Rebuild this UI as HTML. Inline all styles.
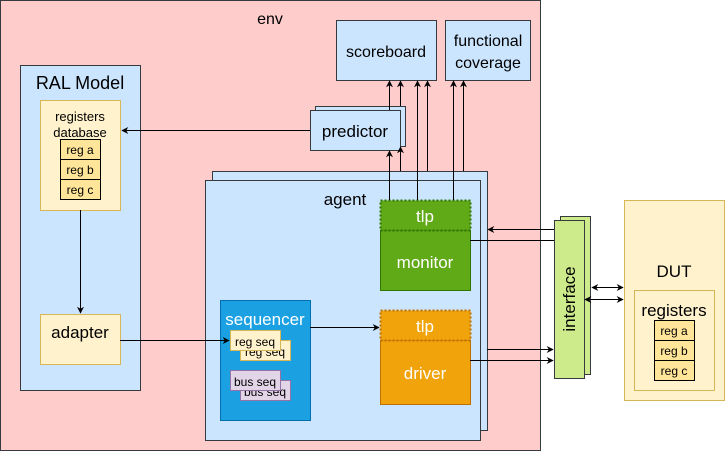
<!DOCTYPE html>
<html><head><meta charset="utf-8"><style>html,body{margin:0;padding:0;background:#fff}svg{display:block}text{font-family:"Liberation Sans",sans-serif}</style></head>
<body>
<svg width="726" height="451" viewBox="0 0 726 451" xmlns="http://www.w3.org/2000/svg">
<defs><marker id="a" viewBox="0 0 10 10" refX="9" refY="5" markerWidth="7" markerHeight="7" orient="auto-start-reverse"><path d="M0,0 L10,5 L0,10 L3,5 z" fill="#000"/></marker></defs>
<rect x="0.5" y="0.5" width="540" height="450" fill="#ffcccc" stroke="#36393d"/>
<text x="270" y="24" font-size="16" text-anchor="middle">env</text>
<rect x="336.5" y="20.5" width="100" height="60" fill="#cce5ff" stroke="#36393d"/>
<text x="386" y="57" font-size="16" text-anchor="middle">scoreboard</text>
<rect x="445.5" y="20.5" width="85" height="60" fill="#cce5ff" stroke="#36393d"/>
<text x="488" y="46" font-size="16" text-anchor="middle">functional</text>
<text x="488" y="68" font-size="16" text-anchor="middle">coverage</text>
<rect x="20.5" y="65.5" width="120" height="325" fill="#cce5ff" stroke="#36393d"/>
<text x="80" y="89" font-size="18" text-anchor="middle">RAL Model</text>
<rect x="40.5" y="100.5" width="80" height="110" fill="#fff2cc" stroke="#d6b656"/>
<text x="80" y="121" font-size="13" text-anchor="middle">registers</text>
<text x="80" y="137" font-size="13" text-anchor="middle">database</text>
<g font-size="12" text-anchor="middle"><rect x="60.5" y="139.5" width="40" height="20" fill="#ffe599" stroke="#000"/><text x="80" y="154">reg a</text><rect x="60.5" y="159.5" width="40" height="20" fill="#ffe599" stroke="#000"/><text x="80" y="174">reg b</text><rect x="60.5" y="179.5" width="40" height="20" fill="#ffe599" stroke="#000"/><text x="80" y="194">reg c</text></g>
<rect x="40.5" y="314.5" width="80" height="50" fill="#fff2cc" stroke="#d6b656"/>
<text x="80" y="338" font-size="17" text-anchor="middle">adapter</text>
<rect x="315.5" y="106.5" width="90" height="40" fill="#cce5ff" stroke="#36393d"/>
<rect x="310.5" y="110.5" width="90" height="40" fill="#cce5ff" stroke="#36393d"/>
<text x="355" y="137" font-size="17" text-anchor="middle">predictor</text>
<rect x="212.5" y="171.5" width="275" height="259" fill="#cce5ff" stroke="#36393d"/>
<rect x="205.5" y="180.5" width="275" height="260" fill="#cce5ff" stroke="#36393d"/>
<text x="345" y="205" font-size="17" text-anchor="middle">agent</text>
<rect x="380.5" y="230.5" width="90" height="60" fill="#60a917" stroke="#2d7600"/>
<rect x="380.5" y="200.5" width="90" height="30" fill="#60a917" stroke="#2d7600" stroke-width="2" stroke-dasharray="2,2"/>
<text x="425" y="222" font-size="17" fill="#fff" text-anchor="middle">tlp</text>
<text x="425" y="268" font-size="17" fill="#fff" text-anchor="middle">monitor</text>
<rect x="380.5" y="340.5" width="90" height="64" fill="#f0a30a" stroke="#bd7000"/>
<rect x="380.5" y="310.5" width="90" height="30" fill="#f0a30a" stroke="#bd7000" stroke-width="2" stroke-dasharray="2,2"/>
<text x="425" y="332" font-size="17" fill="#fff" text-anchor="middle">tlp</text>
<text x="425" y="379" font-size="17" fill="#fff" text-anchor="middle">driver</text>
<rect x="220.5" y="300.5" width="90" height="120" fill="#1ba1e2" stroke="#006eaf"/>
<text x="265" y="325" font-size="17" fill="#fff" text-anchor="middle">sequencer</text>
<g font-size="12" text-anchor="middle">
<rect x="240.5" y="340.5" width="50" height="20" fill="#fff2cc" stroke="#d6b656"/><text x="265" y="356">reg seq</text>
<rect x="230.5" y="330.5" width="50" height="20" fill="#fff2cc" stroke="#d6b656"/><text x="255" y="346">reg seq</text>
<rect x="240.5" y="380.5" width="50" height="20" fill="#e1d5e7" stroke="#9673a6"/><text x="265" y="396">bus seq</text>
<rect x="230.5" y="370.5" width="50" height="20" fill="#e1d5e7" stroke="#9673a6"/><text x="255" y="386">bus seq</text></g>
<rect x="560.5" y="216.5" width="30" height="158" fill="#cdeb8b" stroke="#36393d"/>
<rect x="554.5" y="220.5" width="30" height="158" fill="#cdeb8b" stroke="#36393d"/>
<text transform="translate(575,299) rotate(-90)" font-size="17" text-anchor="middle">interface</text>
<rect x="624.5" y="200.5" width="100" height="200" fill="#fff2cc" stroke="#d6b656"/>
<text x="674" y="277" font-size="17" text-anchor="middle">DUT</text>
<rect x="634.5" y="290.5" width="80" height="100" fill="#fff2cc" stroke="#d6b656"/>
<text x="674" y="316" font-size="17" text-anchor="middle">registers</text>
<g font-size="12" text-anchor="middle"><rect x="654.5" y="320.5" width="40" height="20" fill="#ffe599" stroke="#000"/><text x="674" y="335">reg a</text><rect x="654.5" y="340.5" width="40" height="20" fill="#ffe599" stroke="#000"/><text x="674" y="355">reg b</text><rect x="654.5" y="360.5" width="40" height="20" fill="#ffe599" stroke="#000"/><text x="674" y="375">reg c</text></g>
<g stroke="#000" stroke-width="1" fill="none" marker-end="url(#a)">
<line x1="310" y1="130.5" x2="122" y2="130.5"/>
<line x1="80.5" y1="210" x2="80.5" y2="313"/>
<line x1="120" y1="340.5" x2="229" y2="340.5"/>
<line x1="310" y1="327.5" x2="379" y2="327.5"/>
<line x1="389.5" y1="110" x2="389.5" y2="81"/>
<line x1="400.5" y1="106" x2="400.5" y2="81"/>
<line x1="417.5" y1="200" x2="417.5" y2="81"/>
<line x1="427.5" y1="171" x2="427.5" y2="81"/>
<line x1="453.5" y1="200" x2="453.5" y2="81"/>
<line x1="463.5" y1="171" x2="463.5" y2="81"/>
<line x1="389.5" y1="200" x2="389.5" y2="151"/>
<line x1="400.5" y1="171" x2="400.5" y2="147"/>
<line x1="554" y1="229.5" x2="488" y2="229.5"/>
<line x1="487" y1="349.5" x2="553" y2="349.5"/>
<line x1="470" y1="360.5" x2="553" y2="360.5"/>
<line x1="592" y1="287.5" x2="623" y2="287.5" marker-start="url(#a)"/>
<line x1="585" y1="299.5" x2="623" y2="299.5" marker-start="url(#a)"/>
</g>
<line x1="470" y1="240.5" x2="554" y2="240.5" stroke="#000"/>
</svg>
</body></html>
